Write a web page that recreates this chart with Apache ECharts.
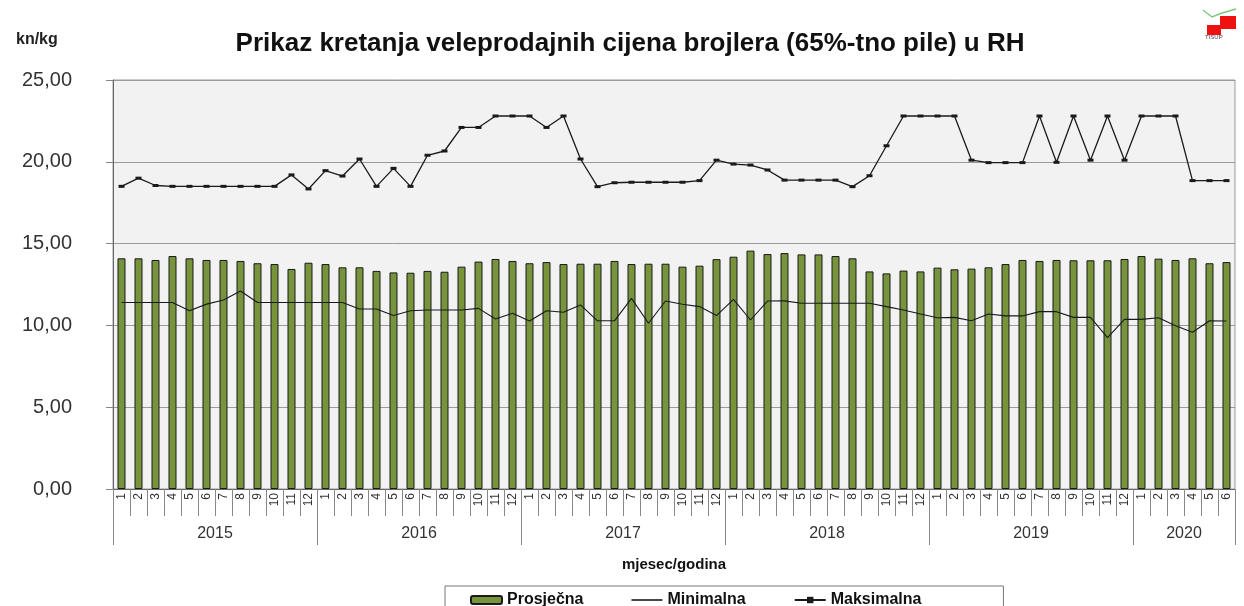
<!DOCTYPE html>
<html>
<head>
<meta charset="utf-8">
<script src="https://cdn.jsdelivr.net/npm/echarts@6/dist/echarts.min.js"></script>
<style>
html,body{margin:0;padding:0;background:#fff;}
#chart{width:1244px;height:606px;}
</style>
</head>
<body>
<div id="chart"></div>
<script>
const years = ['2015', '2016', '2017', '2018', '2019', '2020'];
const monthsPerYear = [12, 12, 12, 12, 12, 6];
const yTicks = [0, 5, 10, 15, 20, 25];

const prosjecna = [
  14.1, 14.1, 14.0, 14.24, 14.1, 14.0, 14.0, 13.94, 13.8, 13.75, 13.45, 13.83,
  13.75, 13.55, 13.55, 13.33, 13.24, 13.22, 13.33, 13.28, 13.59, 13.9, 14.06, 13.94,
  13.8, 13.87, 13.75, 13.77, 13.77, 13.94, 13.75, 13.77, 13.77, 13.59, 13.65, 14.05,
  14.2, 14.57, 14.36, 14.42, 14.34, 14.34, 14.24, 14.1, 13.3, 13.18, 13.35, 13.3,
  13.53, 13.43, 13.47, 13.55, 13.75, 14.0, 13.94, 14.0, 13.98, 13.98, 13.98, 14.06,
  14.24, 14.08, 14.0, 14.1, 13.8, 13.87
];
const minimalna = [
  11.4, 11.4, 11.4, 11.4, 10.9, 11.3, 11.55, 12.1, 11.4, 11.4, 11.4, 11.4,
  11.4, 11.4, 11.0, 11.0, 10.6, 10.9, 10.94, 10.94, 10.94, 11.04, 10.39, 10.74,
  10.27, 10.9, 10.8, 11.25, 10.28, 10.28, 11.65, 10.13, 11.49, 11.29, 11.15, 10.6,
  11.59, 10.33, 11.49, 11.5, 11.35, 11.35, 11.35, 11.35, 11.35, 11.15, 10.94, 10.7,
  10.47, 10.49, 10.28, 10.7, 10.58, 10.58, 10.84, 10.84, 10.49, 10.49, 9.25, 10.37,
  10.37, 10.47, 9.98, 9.58, 10.28, 10.27
];
const maksimalna = [
  18.5, 19.0, 18.55, 18.5, 18.5, 18.5, 18.5, 18.5, 18.5, 18.5, 19.2, 18.34,
  19.46, 19.13, 20.17, 18.5, 19.6, 18.5, 20.4, 20.66, 22.1, 22.1, 22.8, 22.8,
  22.8, 22.1, 22.8, 20.17, 18.48, 18.72, 18.75, 18.75, 18.75, 18.75, 18.85, 20.1,
  19.86, 19.8, 19.5, 18.88, 18.88, 18.88, 18.88, 18.48, 19.15, 20.98, 22.8, 22.8,
  22.8, 22.8, 20.1, 19.95, 19.95, 19.95, 22.8, 19.97, 22.8, 20.1, 22.8, 20.1,
  22.8, 22.8, 22.8, 18.85, 18.85, 18.85
];

// build category arrays
const monthCats = [];
const yearCats = [];
const yearStart = new Set();
const yearLabelIdx = new Set();
let k = 0;
years.forEach((y, yi) => {
  const n = monthsPerYear[yi];
  yearStart.add(k);
  yearLabelIdx.add(k + Math.floor(n / 2));
  for (let m = 1; m <= n; m++) {
    monthCats.push(String(m));
    yearCats.push(y);
  }
  k += n;
});
yearStart.add(k);

const FONT = '"Liberation Sans", Arial, sans-serif';
const chart = echarts.init(document.getElementById('chart'), null, {renderer: 'canvas'});
chart.setOption({
  animation: false,
  backgroundColor: '#ffffff',
  title: [
    {
      text: 'Prikaz kretanja veleprodajnih cijena brojlera (65%-tno pile) u RH',
      left: 625, top: 26, textAlign: 'center',
      textStyle: {fontFamily: FONT, fontWeight: 'bold', fontSize: 26, color: '#111'}
    },
    {
      text: 'kn/kg', left: 11, top: 27,
      textStyle: {fontFamily: FONT, fontWeight: 'bold', fontSize: 16, color: '#222'}
    }
  ],
  legend: {
    left: 445, top: 586,
    padding: [6, 82, 12, 25],
    borderColor: '#777', borderWidth: 1,
    itemWidth: 31, itemHeight: 8, itemGap: 48,
    textStyle: {fontFamily: FONT, fontWeight: 'bold', fontSize: 16, color: '#111'},
    data: [
      {name: 'Prosječna'},
      {name: 'Minimalna', icon: 'path://M0,3.2 L31,3.2 L31,4.8 L0,4.8 Z', itemStyle: {color: '#1a1a1a'}},
      {name: 'Maksimalna'}
    ]
  },
  grid: {
    left: 113, right: 9, top: 80, bottom: 117,
    show: true, backgroundColor: '#f2f2f2', borderColor: '#9a9a9a', borderWidth: 1
  },
  xAxis: [
    {
      type: 'category', data: monthCats, position: 'bottom',
      boundaryGap: true,
      axisLine: {show: true, lineStyle: {color: '#666', width: 1}},
      axisTick: {show: true, interval: 0, length: 27, lineStyle: {color: '#888'}},
      axisLabel: {interval: 0, rotate: 90, fontSize: 12, margin: 4, color: '#333', fontFamily: FONT},
      splitLine: {show: false}
    },
    {
      type: 'category', data: yearCats, position: 'bottom',
      boundaryGap: true,
      axisLine: {show: false},
      axisTick: {show: true, length: 56, interval: (i) => yearStart.has(i), lineStyle: {color: '#888'}},
      axisLabel: {
        interval: (i) => yearLabelIdx.has(i),
        fontSize: 16, margin: 37, color: '#333', fontFamily: FONT,
        padding: [0, 17, 0, 0]
      },
      name: 'mjesec/godina', nameLocation: 'middle', nameGap: 68,
      nameTextStyle: {fontFamily: FONT, fontWeight: 'bold', fontSize: 15, color: '#111'},
      splitLine: {show: false}
    }
  ],
  yAxis: {
    type: 'value', min: yTicks[0], max: yTicks[yTicks.length - 1], interval: 5,
    axisLine: {show: true, lineStyle: {color: '#666'}},
    axisTick: {show: true, length: 7, lineStyle: {color: '#888'}},
    axisLabel: {
      margin: 41, fontSize: 20, color: '#333', fontFamily: FONT,
      formatter: (v) => v.toFixed(2).replace('.', ',')
    },
    splitLine: {show: true, lineStyle: {color: '#9a9a9a', width: 1}}
  },
  series: [
    {
      name: 'Prosječna', type: 'bar', xAxisIndex: 0, data: prosjecna,
      barWidth: 8,
      itemStyle: {color: '#77933c', borderColor: '#1a1a1a', borderWidth: 1}
    },
    {
      name: 'Minimalna', type: 'line', xAxisIndex: 0, data: minimalna,
      symbol: 'none', showSymbol: false,
      lineStyle: {color: '#1a1a1a', width: 1.1},
      itemStyle: {color: '#1a1a1a'}
    },
    {
      name: 'Maksimalna', type: 'line', xAxisIndex: 0, data: maksimalna,
      symbol: 'rect', symbolSize: [6, 3],
      lineStyle: {color: '#1a1a1a', width: 1.3},
      itemStyle: {color: '#1a1a1a'}
    }
  ],
  graphic: [
    {type: 'polyline', shape: {points: [[1203, 10], [1212, 17], [1222, 13], [1236, 9]]}, style: {stroke: '#7fc97f', lineWidth: 1.5, fill: null}},
    {type: 'rect', shape: {x: 1220, y: 16, width: 16, height: 13}, style: {fill: '#ee1111'}},
    {type: 'rect', shape: {x: 1207, y: 25, width: 14, height: 10}, style: {fill: '#ee1111'}},
    {type: 'text', left: 1205, top: 34, style: {text: 'TISUP', fontSize: 6, fill: '#445', fontFamily: FONT}}
  ]
});
</script>
</body>
</html>
